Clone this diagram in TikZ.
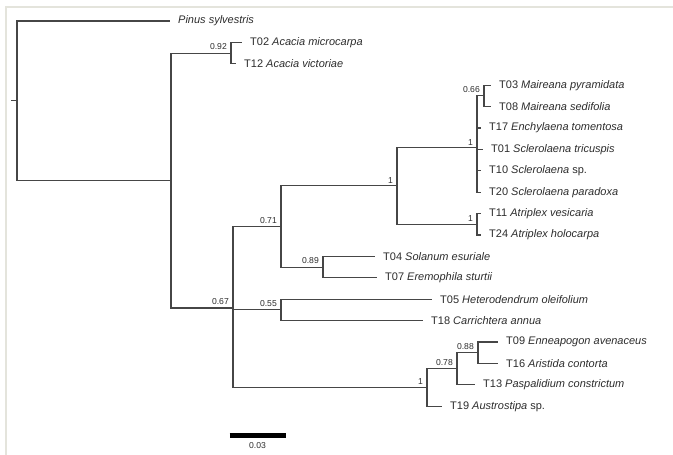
\documentclass[tikz,border=0pt]{standalone}
\usepackage{fontspec}
\setmainfont{Liberation Sans}
\definecolor{frame}{RGB}{228,228,220}
\definecolor{ink}{RGB}{70,70,70}
\definecolor{txt}{RGB}{45,45,45}
\begin{document}
\begin{tikzpicture}[x=1pt,y=-1pt,
  br/.style={draw=ink, line width=1.1pt},
  taxon/.style={anchor=west, inner sep=0pt, xshift=8pt, font=\fontsize{11}{12}\selectfont, text=txt},
  bs/.style={anchor=south east, inner sep=0pt, font=\fontsize{8.6}{10}\selectfont, text=txt},
]
\useasboundingbox (0,0) rectangle (673,455);
\fill[white] (0,0) rectangle (673,455);
\draw[draw=frame, line width=1.6pt] (6,455) -- (6,7) -- (673,7);

% internal nodes
\coordinate (root) at (17,100.8);
\coordinate (stub) at (11,100.8);
\coordinate (N1) at (171,180.6);
\coordinate (NAc) at (231,53.1);
\coordinate (N67) at (233,308);
\coordinate (N71) at (281,226.5);
\coordinate (NB1) at (397,185.8);
\coordinate (NCh) at (477,147.3);
\coordinate (N66) at (484,95.9);
\coordinate (NAt) at (477,224.3);
\coordinate (N89) at (323,267.1);
\coordinate (N55) at (281,309.9);
\coordinate (NG1) at (427,387.5);
\coordinate (N78) at (457,368.8);
\coordinate (N88) at (478,352.7);
% leaf ends
\coordinate (lPin) at (170,21);
\coordinate (lT02) at (242,42.4);
\coordinate (lT12) at (236,63.8);
\coordinate (lT03) at (491,85.2);
\coordinate (lT08) at (491,106.6);
\coordinate (lT17) at (481,128);
\coordinate (lT01) at (483,149.4);
\coordinate (lT10) at (481,170.8);
\coordinate (lT20) at (481,192.2);
\coordinate (lT11) at (481,213.6);
\coordinate (lT24) at (481,235);
\coordinate (lT04) at (375,256.4);
\coordinate (lT07) at (377,277.8);
\coordinate (lT05) at (432,299.2);
\coordinate (lT18) at (423,320.6);
\coordinate (lT09) at (498,342);
\coordinate (lT16) at (498,363.4);
\coordinate (lT13) at (475,384.8);
\coordinate (lT19) at (442,406.2);

% branches
\draw[br] (stub) -- (root);
\draw[br] (root) |- (lPin);
\draw[br] (root) |- (N1);
\draw[br] (N1) |- (NAc);
\draw[br] (N1) |- (N67);
\draw[br] (NAc) |- (lT02);
\draw[br] (NAc) |- (lT12);
\draw[br] (N67) |- (N71);
\draw[br] (N67) |- (N55);
\draw[br] (N67) |- (NG1);
\draw[br] (N71) |- (NB1);
\draw[br] (N71) |- (N89);
\draw[br] (NB1) |- (NCh);
\draw[br] (NB1) |- (NAt);
\draw[br] (NCh) |- (N66);
\draw[br] (NCh) |- (lT17);
\draw[br] (NCh) |- (lT01);
\draw[br] (NCh) |- (lT10);
\draw[br] (NCh) |- (lT20);
\draw[br] (N66) |- (lT03);
\draw[br] (N66) |- (lT08);
\draw[br] (NAt) |- (lT11);
\draw[br] (NAt) |- (lT24);
\draw[br] (N89) |- (lT04);
\draw[br] (N89) |- (lT07);
\draw[br] (N55) |- (lT05);
\draw[br] (N55) |- (lT18);
\draw[br] (NG1) |- (N78);
\draw[br] (NG1) |- (lT19);
\draw[br] (N78) |- (N88);
\draw[br] (N78) |- (lT13);
\draw[br] (N88) |- (lT09);
\draw[br] (N88) |- (lT16);

% taxa
\node[taxon] (tPin) at (lPin) {\textit{Pinus sylvestris}};
\node[taxon] (tT02) at (lT02) {T02 \textit{Acacia microcarpa}};
\node[taxon] (tT12) at (lT12) {T12 \textit{Acacia victoriae}};
\node[taxon] (tT03) at (lT03) {T03 \textit{Maireana pyramidata}};
\node[taxon] (tT08) at (lT08) {T08 \textit{Maireana sedifolia}};
\node[taxon] (tT17) at (lT17) {T17 \textit{Enchylaena tomentosa}};
\node[taxon] (tT01) at (lT01) {T01 \textit{Sclerolaena tricuspis}};
\node[taxon] (tT10) at (lT10) {T10 \textit{Sclerolaena} sp.};
\node[taxon] (tT20) at (lT20) {T20 \textit{Sclerolaena paradoxa}};
\node[taxon] (tT11) at (lT11) {T11 \textit{Atriplex vesicaria}};
\node[taxon] (tT24) at (lT24) {T24 \textit{Atriplex holocarpa}};
\node[taxon] (tT04) at (lT04) {T04 \textit{Solanum esuriale}};
\node[taxon] (tT07) at (lT07) {T07 \textit{Eremophila sturtii}};
\node[taxon] (tT05) at (lT05) {T05 \textit{Heterodendrum oleifolium}};
\node[taxon] (tT18) at (lT18) {T18 \textit{Carrichtera annua}};
\node[taxon] (tT09) at (lT09) {T09 \textit{Enneapogon avenaceus}};
\node[taxon] (tT16) at (lT16) {T16 \textit{Aristida contorta}};
\node[taxon] (tT13) at (lT13) {T13 \textit{Paspalidium constrictum}};
\node[taxon] (tT19) at (lT19) {T19 \textit{Austrostipa} sp.};

% support values
\node[bs] (b92) at ([xshift=-4pt,yshift=3pt]NAc) {0.92};
\node[bs] (b66) at ([xshift=-4pt,yshift=3pt]N66) {0.66};
\node[bs] (bCh) at ([xshift=-4pt,yshift=2pt]NCh) {1};
\node[bs] (bB1) at ([xshift=-4pt,yshift=2pt]NB1) {1};
\node[bs] (bAt) at ([xshift=-4pt,yshift=3pt]NAt) {1};
\node[bs] (b71) at ([xshift=-4pt,yshift=3pt]N71) {0.71};
\node[bs] (b89) at ([xshift=-4pt,yshift=3pt]N89) {0.89};
\node[bs] (b67) at ([xshift=-4pt,yshift=3pt]N67) {0.67};
\node[bs] (b55) at ([xshift=-4pt,yshift=3pt]N55) {0.55};
\node[bs] (b88) at ([xshift=-4pt,yshift=3pt]N88) {0.88};
\node[bs] (b78) at ([xshift=-4pt,yshift=3pt]N78) {0.78};
\node[bs] (bG1) at ([xshift=-4pt,yshift=3pt]NG1) {1};

% scale bar
\coordinate (sb1) at (229.5,435);
\coordinate (sb2) at (285.5,435);
\draw[line width=5pt, black] (sb1) -- (sb2);
\node[bs, anchor=center] (sbl) at (257.5,446) {0.03};
\end{tikzpicture}
\end{document}
